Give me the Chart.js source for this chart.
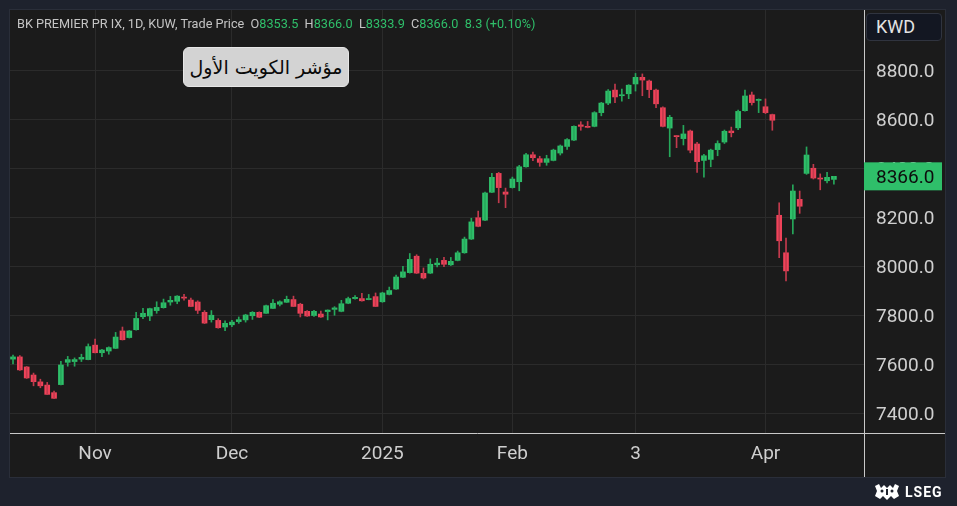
<!DOCTYPE html>
<html>
<head>
<meta charset="utf-8">
<script src="https://cdn.jsdelivr.net/npm/chart.js@4.4.1/dist/chart.umd.min.js"></script>
<style>
  html, body { margin:0; padding:0; background:#1e222d; overflow:hidden; }
  #wrap { position:relative; width:957px; height:506px; }
  canvas { position:absolute; left:0; top:0; }
  #hdr { position:absolute; left:17px; top:16px; font:12.7px "Roboto", "Liberation Sans", sans-serif; color:#c4c4c4; white-space:pre; }
  #hdr .v { color:#2fbf6a; }
  #title { position:absolute; left:183px; top:47px; width:166px; height:40px; background:#d3d3d3; border:1px solid #e6e6e6; box-sizing:border-box; border-radius:6px; color:#0a0a0a; font:19px "DejaVu Sans", sans-serif; display:flex; align-items:center; justify-content:center; direction:rtl; }
  #kwd { position:absolute; left:866px; top:13px; width:76px; height:28px; box-sizing:border-box; background:#131722; border:1px solid #30343f; border-radius:4px; color:#e3e3e3; font:18px "Roboto", sans-serif; padding-left:9px; line-height:26px; }
  #lseg { position:absolute; left:874px; top:484px; display:flex; align-items:center; gap:5px; color:#fff; font:bold 14px "Roboto", sans-serif; letter-spacing:1px; }
</style>
</head>
<body>
<div id="wrap">
  <canvas id="c" width="957" height="506"></canvas>
  <div id="hdr">BK PREMIER PR IX, 1D, KUW, Trade Price  O<span class="v">8353.5</span>  H<span class="v">8366.0</span>  L<span class="v">8333.9</span>  C<span class="v">8366.0</span>  <span class="v">8.3 (+0.10%)</span></div>
  <div id="title">مؤشر الكويت الأول</div>
  <div id="kwd">KWD</div>
  <div id="lseg"><svg width="26" height="16" viewBox="0 0 26 16"><g fill="#fff"><path d="M1 2 L5 0 L7 4 L10 1 L13 4 L16 1 L19 4 L21 0 L25 2 L23 7 L25 12 L20 15 L17 12 L13 16 L9 12 L6 15 L1 12 L3 7 Z"/></g><g fill="#1e222d"><circle cx="8" cy="7" r="1.5"/><circle cx="18" cy="7" r="1.5"/><rect x="12" y="5" width="2" height="6"/></g></svg><span>LSEG</span></div>
</div>
<script>
const dates = [
 '2024-10-16','2024-10-17','2024-10-20','2024-10-21','2024-10-22','2024-10-23','2024-10-24','2024-10-27','2024-10-28','2024-10-29','2024-10-30','2024-10-31',
 '2024-11-03','2024-11-04','2024-11-05','2024-11-06','2024-11-07','2024-11-10','2024-11-11','2024-11-12','2024-11-13','2024-11-14','2024-11-17','2024-11-18','2024-11-19','2024-11-20','2024-11-21','2024-11-24','2024-11-25','2024-11-26','2024-11-27','2024-11-28',
 '2024-12-01','2024-12-02','2024-12-03','2024-12-04','2024-12-05','2024-12-08','2024-12-09','2024-12-10','2024-12-11','2024-12-12','2024-12-15','2024-12-16','2024-12-17','2024-12-18','2024-12-19','2024-12-22','2024-12-23','2024-12-24','2024-12-25','2024-12-26','2024-12-29','2024-12-30',
 '2025-01-02','2025-01-05','2025-01-06','2025-01-07','2025-01-08','2025-01-09','2025-01-12','2025-01-13','2025-01-14','2025-01-15','2025-01-16','2025-01-19','2025-01-20','2025-01-21','2025-01-22','2025-01-23','2025-01-26','2025-01-28','2025-01-29',
 '2025-02-02','2025-02-03','2025-02-04','2025-02-05','2025-02-06','2025-02-09','2025-02-10','2025-02-11','2025-02-12','2025-02-13','2025-02-16','2025-02-17','2025-02-18','2025-02-19','2025-02-20','2025-02-23','2025-02-24','2025-02-27',
 '2025-03-02','2025-03-03','2025-03-04','2025-03-05','2025-03-06','2025-03-09','2025-03-10','2025-03-11','2025-03-12','2025-03-13','2025-03-16','2025-03-17','2025-03-18','2025-03-19','2025-03-20','2025-03-23','2025-03-24','2025-03-25','2025-03-26',
 '2025-04-02','2025-04-03','2025-04-06','2025-04-07','2025-04-08','2025-04-09','2025-04-10','2025-04-13','2025-04-14','2025-04-15','2025-04-16'
];
const opens = [
 7620,7629,7588,7555,7527,7514,7483,7516,7607,7610,7620,7618,
 7677,7646,7653,7664,7735,7708,7740,7793,7796,7818,7830,7853,7856,7873,7861,7853,7811,7781,7778,7751,
 7760,7773,7780,7797,7811,7807,7827,7844,7852,7863,7844,7815,7798,7804,7814,7823,7815,7848,7867,7867,7863,7875,
 7854,7884,7906,7954,7973,8040,7970,7971,8005,8023,8005,8023,8054,8110,8197,8187,8301,8378,8302,
 8320,8344,8405,8454,8438,8423,8431,8461,8488,8514,8576,8570,8570,8626,8665,8718,8695,8703,
 8743,8770,8755,8718,8646,8563,8531,8520,8551,8498,8431,8435,8475,8506,8551,8564,8634,8698,8676,
 8650,8618,8207,8054,8192,8272,8378,8399,8359,8348,8353.5
];
const highs = [
 7636,7634,7590,7563,7538,7525,7490,7611,7631,7625,7640,7682,
 7702,7660,7670,7729,7751,7737,7811,7827,7828,7854,7865,7876,7879,7884,7869,7858,7818,7818,7785,7776,
 7778,7792,7803,7814,7813,7841,7863,7858,7877,7877,7848,7818,7819,7816,7821,7834,7860,7873,7879,7888,7884,7890,
 7893,7914,7963,7999,8051,8046,7992,8029,8031,8035,8035,8061,8118,8195,8224,8302,8378,8382,8318,
 8363,8411,8460,8465,8448,8452,8477,8494,8520,8572,8589,8590,8630,8668,8720,8743,8722,8740,
 8786,8784,8759,8722,8650,8615,8532,8574,8555,8505,8456,8477,8511,8555,8567,8636,8718,8710,8682,
 8682,8620,8258,8114,8331,8306,8486,8415,8376,8382,8366.0
];
const lows = [
 7600,7574,7541,7511,7503,7475,7459,7515,7591,7591,7610,7617,
 7645,7630,7640,7663,7698,7706,7738,7785,7777,7807,7828,7840,7846,7861,7834,7806,7765,7771,7746,7736,
 7752,7766,7771,7782,7789,7806,7826,7837,7851,7834,7792,7794,7794,7790,7780,7799,7813,7846,7865,7856,7862,7834,
 7852,7882,7904,7952,7971,7969,7947,7969,7996,7997,8002,8021,8052,8108,8160,8185,8299,8258,8238,
 8318,8307,8403,8430,8407,8411,8429,8453,8476,8512,8554,8564,8568,8613,8658,8667,8673,8683,
 8714,8695,8687,8646,8568,8446,8483,8494,8462,8382,8363,8405,8450,8500,8527,8556,8632,8657,8626,
 8622,8554,8034,7939,8131,8215,8374,8355,8311,8339,8333.9
];
const closes = [
 7629,7576,7543,7528,7511,7476,7460,7596,7618,7618,7627,7671,
 7646,7657,7667,7710,7699,7735,7786,7807,7826,7831,7850,7860,7877,7869,7835,7819,7767,7799,7748,7766,
 7771,7781,7800,7811,7791,7838,7848,7854,7864,7835,7807,7796,7815,7792,7820,7829,7846,7867,7872,7858,7867,7835,
 7890,7900,7955,7976,8027,7971,7951,8007,8012,8007,8019,8054,8110,8180,8162,8298,8362,8320,8293,
 8355,8405,8454,8442,8423,8438,8473,8490,8516,8570,8570,8566,8626,8665,8714,8690,8698,8738,
 8770,8759,8720,8662,8570,8607,8528,8539,8473,8426,8450,8473,8500,8550,8544,8631,8694,8667,8680,
 8626,8595,8103,7980,8306,8244,8453,8359,8355,8362,8366.0
];
const xTickIdx = [12, 32, 54, 73, 91, 110];
const xTickLabels = ['Nov', 'Dec', '2025', 'Feb', '3', 'Apr'];
const yTicks = [7400, 7600, 7800, 8000, 8200, 8400, 8600, 8800];

const GREEN = '#2fbf6a', RED = '#f0435a';
const GREEN_W = '#26a85b', RED_W = '#c23a4d';
const isUp = i => closes[i] >= opens[i];

const wickData = dates.map((d, i) => ({ x: i, y: [lows[i], highs[i]] }));
const bodyData = dates.map((d, i) => ({ x: i, y: [opens[i], closes[i]] }));

const bgPlugin = {
  id: 'bg',
  beforeDraw(chart) {
    const c = chart.ctx;
    c.save();
    c.fillStyle = '#1e222d';
    c.fillRect(0, 0, chart.width, chart.height);
    c.fillStyle = '#1b1b1b';
    c.fillRect(10, 10, 935, 467);
    c.strokeStyle = '#2a2e39';
    c.lineWidth = 1;
    c.strokeRect(9.5, 9.5, 936, 468);
    c.restore();
  },
  afterDraw(chart) {
    const c = chart.ctx;
    const a = chart.chartArea;
    const ys = chart.scales.y;
    c.save();
    c.strokeStyle = '#c9c9c9';
    c.lineWidth = 1;
    c.beginPath();
    c.moveTo(10, Math.round(a.bottom) + 0.5);
    c.lineTo(945, Math.round(a.bottom) + 0.5);
    c.moveTo(Math.round(a.right) + 0.5, 10);
    c.lineTo(Math.round(a.right) + 0.5, 477);
    c.stroke();
    // last price tag
    const last = closes[closes.length - 1];
    const py = ys.getPixelForValue(last);
    c.fillStyle = isUp(closes.length - 1) ? GREEN : RED;
    c.fillRect(a.right, py - 14, 78, 28);
    c.fillStyle = '#0d0d0d';
    c.font = '19px Roboto, sans-serif';
    c.textBaseline = 'middle';
    c.textAlign = 'left';
    c.fillText(last.toFixed(1), a.right + 12, py + 1.5);
    c.restore();
  }
};

new Chart(document.getElementById('c'), {
  type: 'bar',
  data: {
    datasets: [
      {
        label: 'wick',
        data: wickData,
        grouped: false,
        barThickness: 1,
        backgroundColor: ctx => isUp(ctx.dataIndex) ? GREEN_W : RED_W,
        borderWidth: 0
      },
      {
        label: 'body',
        data: bodyData,
        grouped: false,
        barThickness: 5,
        minBarLength: 1,
        backgroundColor: ctx => isUp(ctx.dataIndex) ? GREEN : RED,
        borderWidth: 0
      }
    ]
  },
  options: {
    responsive: false,
    animation: false,
    devicePixelRatio: 1,
    layout: { padding: { left: 10, top: 10, right: 12, bottom: 29 } },
    plugins: { legend: { display: false }, tooltip: { enabled: false } },
    scales: {
      x: {
        type: 'linear',
        position: 'bottom',
        offset: false,
        min: -0.44,
        max: 124.4,
        afterBuildTicks: s => { s.ticks = xTickIdx.map(v => ({ value: v })); },
        afterFit: s => { s.height = 44; s.paddingLeft = 0; s.paddingRight = 0; },
        grid: { color: '#2b2b2b', lineWidth: 1, drawTicks: false, offset: false },
        border: { display: false },
        ticks: {
          autoSkip: false, maxRotation: 0, padding: 10,
          color: '#cfcfcf',
          font: { family: 'Roboto', size: 19 },
          callback: v => xTickLabels[xTickIdx.indexOf(v)]
        }
      },
      y: {
        type: 'linear',
        position: 'right',
        min: 7318.4,
        max: 9044.9,
        afterBuildTicks: s => { s.ticks = yTicks.map(v => ({ value: v })); },
        afterFit: s => { s.width = 81; s.paddingTop = 0; s.paddingBottom = 0; },
        grid: { color: '#2b2b2b', lineWidth: 1, drawTicks: false },
        border: { display: false },
        ticks: {
          padding: 12,
          labelOffset: 2,
          color: '#cfcfcf',
          font: { family: 'Roboto', size: 19 },
          callback: v => Number(v).toFixed(1)
        }
      }
    }
  },
  plugins: [bgPlugin]
});
</script>
</body>
</html>
